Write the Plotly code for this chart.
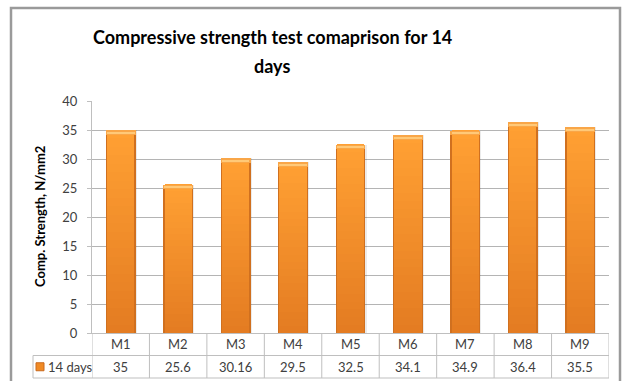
import plotly.graph_objects as go

# Mix names and 14-day compressive strengths (N/mm2)
mixes = ["M1", "M2", "M3", "M4", "M5", "M6", "M7", "M8", "M9"]
strength_14d = [35, 25.6, 30.16, 29.5, 32.5, 34.1, 34.9, 36.4, 35.5]
value_labels = ["35", "25.6", "30.16", "29.5", "32.5", "34.1", "34.9", "36.4", "35.5"]
y_ticks = [0, 5, 10, 15, 20, 25, 30, 35, 40]
series_name = "14 days"
title_lines = ["Compressive strength test comaprison for 14", "days"]

FONT = "Lato, 'Open Sans', sans-serif"
TITLE_FONT = "'Liberation Sans Narrow', Lato, sans-serif"
W, H = 626, 381
ML, MR, MT, MB = 92, 17, 101, 48
PW, PH = W - ML - MR, H - MT - MB

xs = list(range(len(mixes)))
fig = go.Figure()

# soft drop shadow
fig.add_trace(go.Bar(x=xs, y=strength_14d, width=0.53, offset=-0.25,
                     marker=dict(color="rgba(0,0,0,0.08)", line=dict(width=0)),
                     hoverinfo="skip", showlegend=False))
# dark rim of each bar
fig.add_trace(go.Bar(x=xs, y=strength_14d, width=0.52,
                     marker=dict(color="#D0701F", line=dict(width=0)),
                     hoverinfo="skip", showlegend=False))

# vertical gradient, built from stacked slices of each bar
def mix(c1, c2, t):
    a = [int(c1[i:i + 2], 16) for i in (1, 3, 5)]
    b = [int(c2[i:i + 2], 16) for i in (1, 3, 5)]
    return "#" + "".join(f"{round(a[k] + (b[k] - a[k]) * t):02x}" for k in range(3))

N = 24
top_c, bot_c = "#FFA033", "#E47C22"
for k in range(N):
    base = [v * k / N for v in strength_14d]
    h = [v / N * 1.02 for v in strength_14d]
    fig.add_trace(go.Bar(x=xs, y=h, base=base, width=0.475,
                         marker=dict(color=mix(bot_c, top_c, k / (N - 1)), line=dict(width=0)),
                         hoverinfo="skip", showlegend=False))

# bevelled top cap
cap = 0.8
fig.add_trace(go.Bar(x=xs, y=[cap] * len(xs), base=[v - cap for v in strength_14d], width=0.52,
                     marker=dict(color="#F9A648", line=dict(width=0)),
                     hoverinfo="skip", showlegend=False))
fig.add_trace(go.Bar(x=xs, y=[cap * 0.45] * len(xs), base=[v - cap * 0.8 for v in strength_14d],
                     width=0.48, marker=dict(color="#FFC978", line=dict(width=0)),
                     hoverinfo="skip", showlegend=False))

shapes = []
annotations = []
row = 22.5 / PH
grid_c = "#BFBFBF"
x_left_cell = (33 - ML) / PW

def py(pix):
    """Convert a pixel row of the page to paper units."""
    return (H - MB - pix) / PH

# data table grid
for y0 in (-row, -2 * row):
    shapes.append(dict(type="line", xref="paper", yref="paper", x0=x_left_cell, x1=1,
                       y0=y0, y1=y0, line=dict(color=grid_c, width=1)))
for i in range(len(mixes) + 1):
    shapes.append(dict(type="line", xref="x", yref="paper", x0=i - 0.5, x1=i - 0.5,
                       y0=0, y1=-2 * row, line=dict(color=grid_c, width=1)))
shapes.append(dict(type="line", xref="paper", yref="paper", x0=x_left_cell, x1=x_left_cell,
                   y0=-row, y1=-2 * row, line=dict(color=grid_c, width=1)))
# chart frame
shapes.append(dict(type="rect", xref="paper", yref="paper",
                   x0=(11 - ML) / PW, x1=(620 - ML) / PW, y0=py(H + 20),
                   y1=py(8), line=dict(color="#9A9A9A", width=2.5)))
# legend key in the table
key_x = (40 - ML) / PW
shapes.append(dict(type="rect", xref="paper", yref="paper",
                   x0=key_x - 4 / PW, x1=key_x + 4 / PW, y0=-1.5 * row - 4 / PH, y1=-1.5 * row + 4 / PH,
                   fillcolor="#F08A24", line=dict(color="#C9691C", width=1)))
annotations.append(dict(text=series_name, xref="paper", yref="paper", x=(46 - ML) / PW,
                        y=-1.5 * row, xanchor="left", yanchor="middle", showarrow=False,
                        font=dict(family=FONT, size=13, color="#404040")))

for i, (m, lab) in enumerate(zip(mixes, value_labels)):
    annotations.append(dict(text=m, xref="x", yref="paper", x=i, y=-0.5 * row,
                            xanchor="center", yanchor="middle", showarrow=False,
                            font=dict(family=FONT, size=13, color="#404040")))
    annotations.append(dict(text=lab, xref="x", yref="paper", x=i, y=-1.5 * row,
                            xanchor="center", yanchor="middle", showarrow=False,
                            font=dict(family=FONT, size=13, color="#404040")))

annotations.append(dict(text="<b>Comp. Strength, N/mm2</b>", xref="paper", yref="paper",
                        x=(40 - ML) / PW, y=0.5, textangle=-90, xanchor="center",
                        yanchor="middle", showarrow=False,
                        font=dict(family=FONT, size=13, color="#000000")))

# two-line chart title
for line, ypix in zip(title_lines, (37, 66)):
    annotations.append(dict(text=f"<b>{line}</b>", xref="paper", yref="paper",
                            x=(272 - ML) / PW, y=py(ypix), xanchor="center", yanchor="middle",
                            showarrow=False,
                            font=dict(family=TITLE_FONT, size=18, color="#000000")))

fig.update_layout(
    width=W, height=H,
    margin=dict(l=ML, r=MR, t=MT, b=MB),
    paper_bgcolor="white", plot_bgcolor="white",
    barmode="overlay", bargap=0,
    showlegend=False,
    xaxis=dict(range=[-0.5, len(mixes) - 0.5], showticklabels=False, showgrid=False,
               zeroline=False, showline=True, linecolor=grid_c, linewidth=1, fixedrange=True),
    yaxis=dict(range=[0, 40], tickvals=y_ticks, showgrid=True, gridcolor="#B4B4B4", gridwidth=1,
               zeroline=False, showline=True, linecolor=grid_c, linewidth=1,
               ticks="outside", ticklen=4, tickcolor=grid_c, ticklabelstandoff=7,
               tickfont=dict(family=FONT, size=13, color="#404040"), fixedrange=True),
    shapes=shapes, annotations=annotations,
)

fig.write_html("out.html")
